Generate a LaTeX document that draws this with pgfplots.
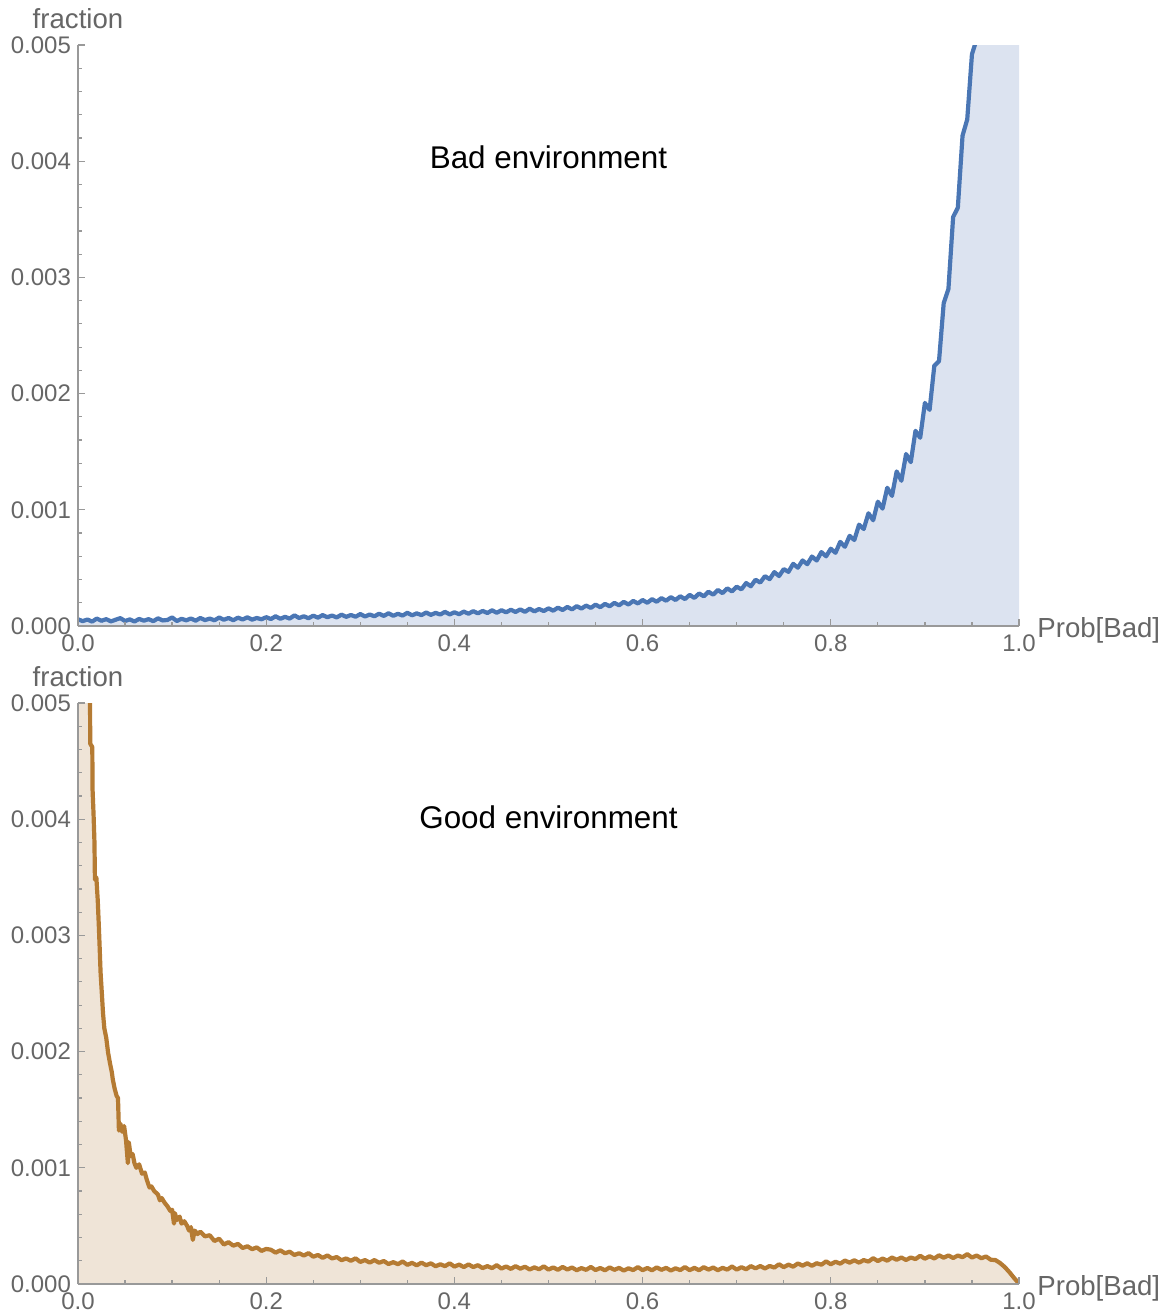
\documentclass[border=0pt]{standalone}
\usepackage{fontspec}
\setmainfont{Liberation Sans}
\usepackage{pgfplots}
\usepackage{pgfplotstable}
\pgfplotsset{compat=1.18}
\definecolor{tickgray}{HTML}{666666}
\definecolor{axgray}{HTML}{999999}
\definecolor{blueline}{HTML}{4A76B4}
\definecolor{bluefill}{HTML}{DCE3F0}
\definecolor{brownline}{HTML}{B57B33}
\definecolor{brownfill}{HTML}{EFE4D7}

% values in units of 1e-5
\pgfplotstableread{
x y
0.000 5.8
0.005 4.2
0.010 5.6
0.015 3.8
0.020 6.4
0.025 4.5
0.030 5.9
0.035 4.0
0.040 5.4
0.045 6.8
0.050 4.3
0.055 5.7
0.060 3.9
0.065 6.1
0.070 4.6
0.075 5.9
0.080 4.2
0.085 6.6
0.090 4.8
0.095 5.2
0.100 7.4
0.105 4.3
0.110 6.2
0.115 4.9
0.120 6.5
0.125 4.6
0.130 6.9
0.135 5.1
0.140 6.4
0.145 4.9
0.150 7.3
0.155 5.4
0.160 6.9
0.165 5.0
0.170 7.2
0.175 5.6
0.180 7.5
0.185 5.5
0.190 6.9
0.195 5.8
0.200 7.6
0.205 6.0
0.210 8.4
0.215 6.2
0.220 7.9
0.225 6.4
0.230 9.2
0.235 6.9
0.240 8.4
0.245 6.7
0.250 8.9
0.255 7.2
0.260 9.4
0.265 7.6
0.270 9.0
0.275 7.4
0.280 9.8
0.285 7.9
0.290 9.5
0.295 8.0
0.300 10.3
0.305 8.2
0.310 9.9
0.315 8.4
0.320 10.6
0.325 8.7
0.330 11.0
0.335 8.8
0.340 10.5
0.345 9.0
0.350 11.4
0.355 9.2
0.360 10.9
0.365 9.4
0.370 11.6
0.375 9.6
0.380 11.3
0.385 9.9
0.390 12.2
0.395 10.0
0.400 11.8
0.405 10.2
0.410 12.4
0.415 10.6
0.420 12.8
0.425 10.9
0.430 13.0
0.435 11.2
0.440 13.5
0.445 11.4
0.450 13.6
0.455 11.8
0.460 14.0
0.465 12.1
0.470 14.3
0.475 12.2
0.480 14.9
0.485 12.6
0.490 14.6
0.495 12.9
0.500 15.2
0.505 13.2
0.510 15.8
0.515 13.8
0.520 16.4
0.525 14.3
0.530 17.1
0.535 15.0
0.540 17.6
0.545 15.6
0.550 18.4
0.555 16.2
0.560 19.0
0.565 17.0
0.570 19.9
0.575 17.8
0.580 20.8
0.585 18.5
0.590 21.6
0.595 19.4
0.600 22.4
0.605 20.0
0.610 23.1
0.615 20.9
0.620 24.0
0.625 21.8
0.630 24.8
0.635 22.4
0.640 25.6
0.645 23.2
0.650 26.8
0.655 24.2
0.660 28.0
0.665 25.6
0.670 29.5
0.675 27.0
0.680 31.0
0.685 28.3
0.690 32.4
0.695 29.8
0.700 33.8
0.705 31.6
0.710 37.0
0.715 34.2
0.720 39.8
0.725 37.4
0.730 42.9
0.735 40.3
0.740 46.4
0.745 43.0
0.750 49.0
0.755 46.6
0.760 53.5
0.765 50.2
0.770 56.4
0.775 53.2
0.780 59.8
0.785 56.4
0.790 63.6
0.795 60.0
0.800 66.5
0.805 63.0
0.810 72.4
0.815 68.2
0.820 77.6
0.825 74.0
0.830 87.2
0.835 83.5
0.840 97.0
0.845 91.0
0.850 107.0
0.855 101.0
0.860 119.0
0.865 112.0
0.870 133.0
0.875 125.0
0.880 148.0
0.885 141.0
0.890 168.0
0.895 162.0
0.900 192.0
0.905 186.0
0.910 224.0
0.915 228.0
0.920 278.0
0.925 290.0
0.930 352.0
0.935 360.0
0.940 422.0
0.945 436.0
0.950 492.0
0.955 505.0
0.960 560
0.970 680
0.980 880
0.990 1200
1.000 2000
}\badtable

\pgfplotstableread{
x y
0.000 2000
0.006 1000
0.011 560
0.0128 500
0.0130 465
0.0152 462
0.0155 425
0.0165 405
0.0175 380
0.0180 348
0.0195 350
0.0210 330
0.0222 307
0.0230 290
0.0240 268
0.0255 248
0.0266 233
0.028 220
0.030 212
0.032 199
0.034 190
0.036 182
0.037 176
0.039 168
0.041 162
0.0425 160
0.0435 132
0.045 138
0.047 131
0.049 136
0.051 124
0.053 104
0.054 122
0.056 110
0.058 112
0.060 104
0.062 100
0.065 103
0.068 95
0.071 96
0.073 90
0.076 83
0.078 84
0.081 80
0.085 77
0.087 72
0.089 74
0.092 70
0.095 67
0.098 63
0.100 64
0.102 52
0.103 61
0.105 55
0.108 58
0.110 52
0.113 54
0.116 50
0.118 46
0.120 49
0.122 38
0.124 46
0.127 43
0.130 45
0.135 41
0.140 42
0.145 37
0.150 39
0.155 34
0.160 36
0.165 33
0.170 34.5
0.175 31
0.180 32.5
0.185 30
0.190 31.5
0.195 28.5
0.200 30.2
0.205 29.5
0.210 27.0
0.215 29.0
0.220 26.5
0.225 27.8
0.230 25.0
0.235 26.5
0.240 24.5
0.245 26.6
0.250 23.5
0.255 25.0
0.260 22.5
0.265 24.6
0.270 22.0
0.275 23.2
0.280 20.5
0.285 22.0
0.290 20.0
0.295 22.1
0.300 19.0
0.305 20.6
0.310 18.4
0.315 20.6
0.320 18.3
0.325 19.8
0.330 17.2
0.335 18.8
0.340 17.1
0.345 19.4
0.350 16.5
0.355 18.2
0.360 16.1
0.365 18.4
0.370 16.2
0.375 17.8
0.380 15.3
0.385 17.0
0.390 15.4
0.395 17.8
0.400 15.0
0.405 16.7
0.410 14.6
0.415 16.9
0.420 14.6
0.425 16.2
0.430 13.7
0.435 15.4
0.440 13.7
0.445 16.2
0.450 13.3
0.455 15.1
0.460 13.0
0.465 15.4
0.470 13.2
0.475 14.9
0.480 12.5
0.485 14.3
0.490 12.7
0.495 15.2
0.500 12.4
0.505 14.3
0.510 12.2
0.515 14.7
0.520 12.5
0.525 14.2
0.530 11.9
0.535 13.7
0.540 12.2
0.545 14.7
0.550 12.0
0.555 13.8
0.560 11.8
0.565 14.3
0.570 12.2
0.575 13.9
0.580 11.6
0.585 13.5
0.590 12.0
0.595 14.6
0.600 11.9
0.605 13.8
0.610 11.8
0.615 14.3
0.620 12.2
0.625 13.9
0.630 11.6
0.635 13.5
0.640 12.0
0.645 14.6
0.650 11.9
0.655 13.9
0.660 11.9
0.665 14.5
0.670 12.4
0.675 14.2
0.680 11.9
0.685 13.9
0.690 12.4
0.695 15.1
0.700 12.4
0.705 14.5
0.710 12.7
0.715 15.4
0.720 13.5
0.725 15.5
0.730 13.4
0.735 15.5
0.740 14.2
0.745 17.0
0.750 14.5
0.755 16.7
0.760 14.9
0.765 17.7
0.770 15.8
0.775 17.8
0.780 15.7
0.785 17.9
0.790 16.6
0.795 19.5
0.800 17.0
0.805 19.2
0.810 17.5
0.815 20.2
0.820 18.4
0.825 20.4
0.830 18.4
0.835 20.6
0.840 19.3
0.845 22.2
0.850 19.8
0.855 21.9
0.860 20.1
0.865 22.8
0.870 20.9
0.875 22.8
0.880 20.7
0.885 22.8
0.890 21.5
0.895 24.3
0.900 21.8
0.905 23.9
0.910 22.0
0.915 24.7
0.920 22.7
0.925 24.6
0.930 22.4
0.935 24.5
0.940 23.1
0.945 25.7
0.950 22.8
0.955 24.5
0.960 22.2
0.965 23.7
0.970 20.9
0.975 20.6
0.980 18.0
0.985 14.5
0.990 10.0
0.995 5.0
1.000 0.4
}\goodtable

\pgfplotsset{mmastyle/.style={
  scale only axis, width=470.5pt, height=290.5pt,
  xmin=0, xmax=1, ymin=0, ymax=500,
  axis on top,
  axis x line=bottom, axis y line=left,
  axis line style={-, draw=axgray, line width=0.8pt},
  xtick={0,0.2,0.4,0.6,0.8,1},
  xticklabels={0.0,0.2,0.4,0.6,0.8,1.0},
  ytick={0,100,200,300,400,500},
  yticklabels={0.000,0.001,0.002,0.003,0.004,0.005},
  minor x tick num=3, minor y tick num=4,
  tick align=inside, major tick length=3.5pt, minor tick length=2pt,
  tick style={axgray, line width=0.6pt},
  tick label style={font=\fontsize{12}{14}\selectfont, text=tickgray},
  xticklabel style={yshift=-0.8pt},
  every axis x label/.style={at={(rel axis cs:1,0)}, anchor=west, inner sep=0pt, xshift=9pt, yshift=-2pt, font=\fontsize{13.8}{16}\selectfont, text=tickgray},
  every axis y label/.style={at={(rel axis cs:0,1)}, anchor=base, inner sep=0pt, yshift=8.5pt, font=\fontsize{13.8}{16}\selectfont, text=tickgray},
  xlabel={Prob[Bad]}, ylabel={fraction},
}}

\begin{document}
\begin{tikzpicture}
\useasboundingbox (0,0) rectangle (583pt,-657pt);
\begin{axis}[mmastyle, at={(39pt,-313pt)}, anchor=south west]
  \addplot[fill=bluefill, draw=none] table[x=x,y=y] {\badtable} \closedcycle;
  \addplot[blueline, line width=2.1pt, line join=round] table[x=x,y=y] {\badtable};
  \node[font=\fontsize{15.7}{18}\selectfont] at (axis cs:0.5,403) {Bad environment};
\end{axis}
\begin{axis}[mmastyle, at={(39pt,-642pt)}, anchor=south west]
  \addplot[fill=brownfill, draw=none] table[x=x,y=y] {\goodtable} \closedcycle;
  \addplot[brownline, line width=2.1pt, line join=round] table[x=x,y=y] {\goodtable};
  \node[font=\fontsize{15.7}{18}\selectfont] at (axis cs:0.5,402) {Good environment};
\end{axis}
\end{tikzpicture}
\end{document}
